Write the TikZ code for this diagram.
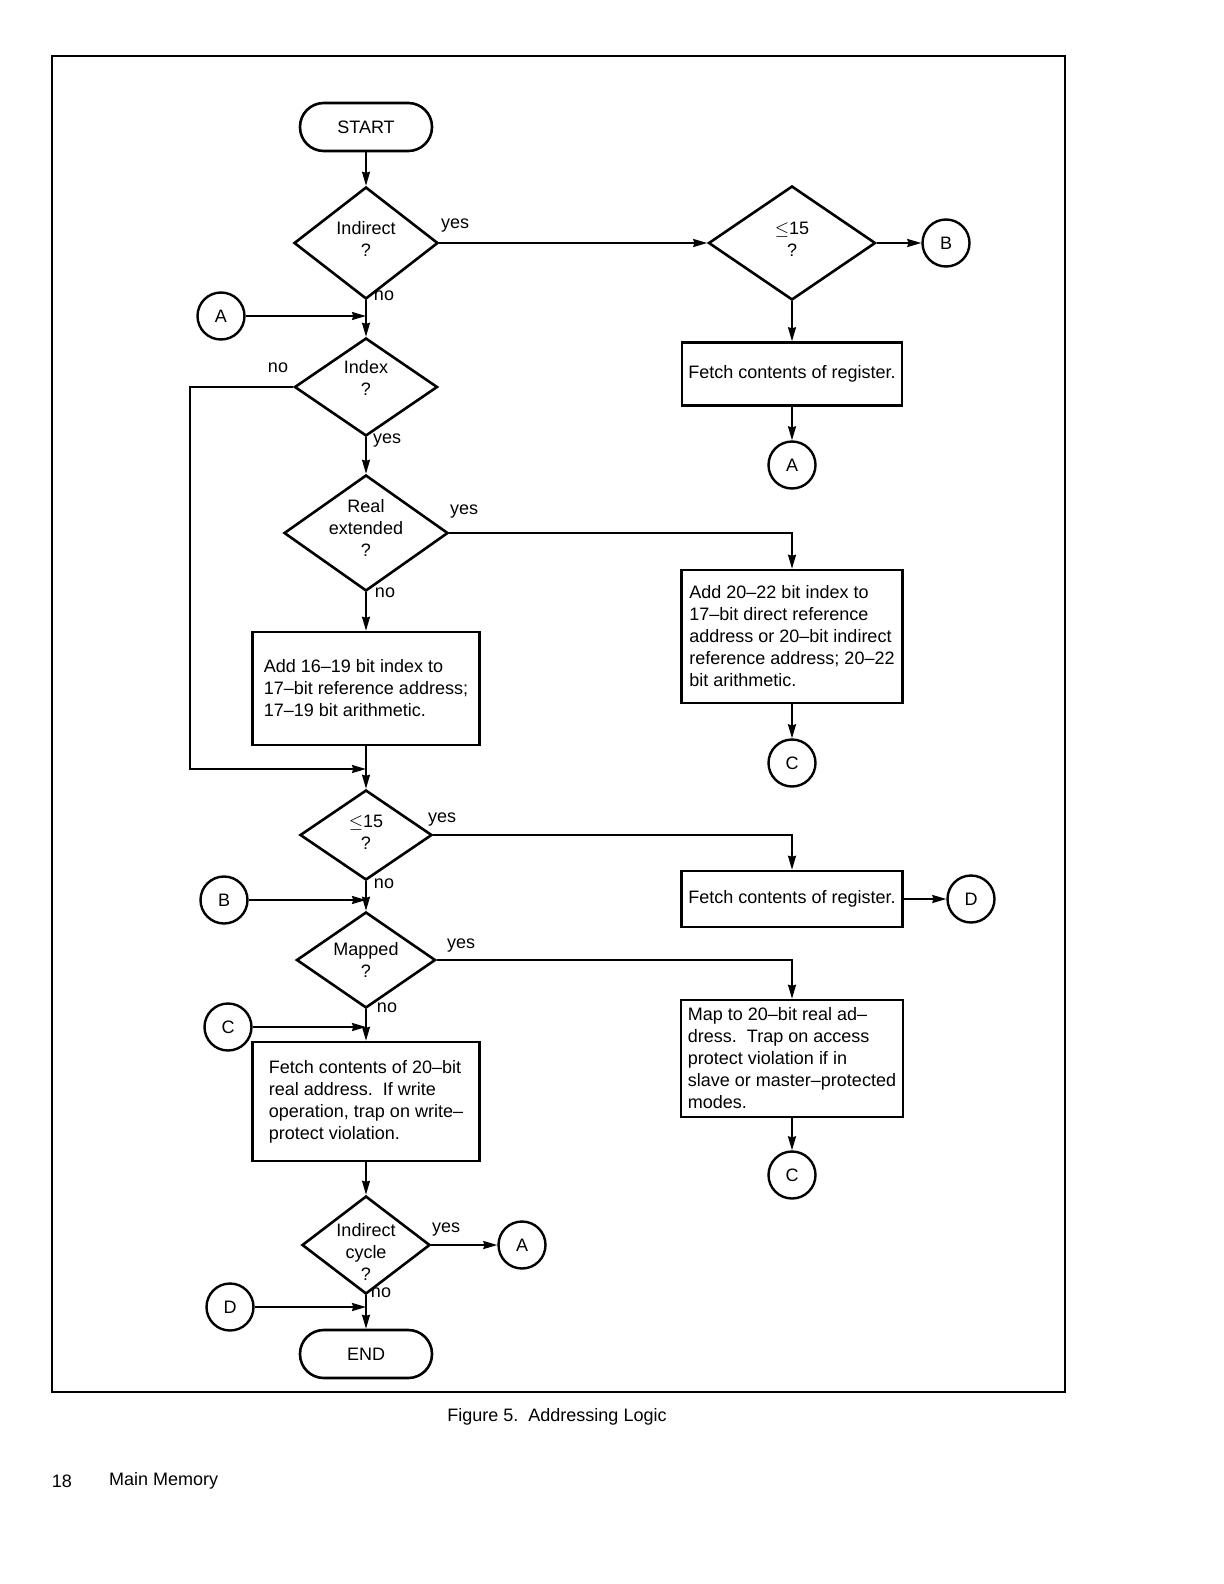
\documentclass[tikz,border=0pt]{standalone}
\usepackage{fontspec}
\setmainfont{Liberation Sans}
\usepackage{amsmath}
\usepackage{amssymb}
\usetikzlibrary{positioning, calc, shapes.geometric, arrows.meta}
\tikzstyle{decision}=[diamond, draw, line width=1.3pt, inner sep=0pt]
\tikzstyle{process}=[rectangle, draw, line width=1.3pt, align=left, inner sep=0pt]
\tikzstyle{terminal}=[rectangle, draw, line width=1.3pt, rounded corners=11.9pt, minimum width=66pt, minimum height=24pt]
\tikzstyle{connector}=[circle, draw, line width=1.2pt, minimum size=23.5pt, inner sep=0pt]
\tikzstyle{answer}=[inner sep=0pt]
\tikzstyle{arrow}=[-{Stealth[length=7pt,width=4pt,inset=0.6pt]}, line width=0.9pt]

\begin{document}
\begin{tikzpicture}[x=0.5pt, y=-0.5pt, font=\fontsize{9pt}{11pt}\selectfont]
    \useasboundingbox (0,0) rectangle (1224,1584);
    \draw[line width=1.2pt] (52,56) rectangle (1065,1392);

    % left column
    \node [terminal] (start) at (366,127) {START};
    \node [decision, minimum width=72pt, minimum height=56pt,
      label={[align=center, yshift=2pt]center:Indirect\\?}] (indirect) at (366,243) {};
    \node [decision, minimum width=71.5pt, minimum height=49pt,
      label={[align=center, yshift=4.5pt]center:Index\\?}] (index) at (366,387) {};
    \node [decision, minimum width=82pt, minimum height=58pt,
      label={[align=center, yshift=2.5pt]center:Real\\extended\\?}] (real) at (366,533) {};
    \node [process, minimum width=113.5pt, minimum height=56.5pt] (add1) at (366,688.5)
      {Add 16--19 bit index to\\17--bit reference address;\\17--19 bit arithmetic.};
    \node [decision, minimum width=66pt, minimum height=45pt,
      label={[align=center, yshift=1.5pt]center:$\leq$15\\?}] (le2) at (366,835) {};
    \node [decision, minimum width=69.5pt, minimum height=48pt,
      label={[align=center]center:Mapped\\?}] (mapped) at (366,960) {};
    \node [process, minimum width=113.5pt, minimum height=59.5pt] (fetch3) at (366,1101.5)
      {Fetch contents of 20--bit\\real address.\ \ If write\\operation, trap on write--\\protect violation.};
    \node [decision, minimum width=64pt, minimum height=49pt,
      label={[align=center, yshift=-3.5pt]center:Indirect\\cycle\\?}] (cycle) at (366,1245) {};
    \node [terminal] (end) at (366,1354) {END};

    % right column
    \node [decision, minimum width=83.5pt, minimum height=57pt,
      label={[align=center, yshift=2pt]center:$\leq$15\\?}] (le1) at (792,243) {};
    \node [process, minimum width=110pt, minimum height=31.5pt] (fetch1) at (792,374)
      {Fetch contents of register.};
    \node [process, minimum width=110.5pt, minimum height=66.5pt] (add2) at (792,636.5)
      {Add 20--22 bit index to\\17--bit direct reference\\address or 20--bit indirect\\reference address; 20--22\\bit arithmetic.};
    \node [process, minimum width=110.5pt, minimum height=28pt] (fetch2) at (792,899)
      {Fetch contents of register.};
    \node [process, minimum width=111pt, minimum height=58.5pt] (map) at (792,1058.5)
      {Map to 20--bit real ad--\\dress.\ \ Trap on access\\protect violation if in\\slave or master--protected\\modes.};

    % off-page connectors
    \foreach \n/\l/\x/\y in {a1/A/221/316, b1/B/946/243, a2/A/792/465, c1/C/792/763,
      b2/B/224/900, d1/D/971/899, c2/C/228/1027, c3/C/792/1175, a3/A/522/1245, d2/D/230/1307}
    \node [connector] (\n) at (\x,\y) {\l};

    % yes / no
    \foreach \n/\l/\x/\y in {y1/yes/455/226, n1/no/384/296, n2/no/278/368, y2/yes/387/441,
      y3/yes/464/512, n3/no/385/593, y4/yes/442/820, n4/no/384/884,
      y5/yes/461/946, n5/no/387/1008, y6/yes/446/1230, n6/no/381/1293}
    \node [answer] (\n) at (\x,\y) {\l};

    \draw [arrow] (start) -- (indirect);
    \draw [arrow] (indirect.east) -- (le1.west);
    \draw [arrow] (le1.east) -- (b1);
    \draw [arrow] (le1) -- (fetch1);
    \draw [arrow] (fetch1) -- (a2);
    \draw [arrow] (indirect) -- (index);
    \draw [arrow] (a1) -- (a1 -| index.north);
    \coordinate (join) at (366,769);
    \draw [arrow] (index.west) -- ++(-103,0) |- (join);
    \draw [arrow] (index) -- (real);
    \draw [arrow] (real.east) -| (add2.north);
    \draw [arrow] (add2) -- (c1);
    \draw [arrow] (real) -- (add1);
    \draw [arrow] (add1) -- (le2);
    \draw [arrow] (le2.east) -| (fetch2.north);
    \draw [arrow] (fetch2) -- (d1);
    \draw [arrow] (le2) -- (mapped);
    \draw [arrow] (b2) -- (b2 -| mapped.north);
    \draw [arrow] (mapped.east) -| (map.north);
    \draw [arrow] (map) -- (c3);
    \draw [arrow] (mapped) -- (fetch3);
    \draw [arrow] (c2) -- (c2 -| fetch3.north);
    \draw [arrow] (fetch3) -- (cycle);
    \draw [arrow] (cycle.east) -- (a3);
    \draw [arrow] (cycle) -- (end);
    \draw [arrow] (d2) -- (d2 -| end.north);

    \node (caption) at (557,1417) {Figure 5.\ \ Addressing Logic};
    \node (page) at (62,1481) {18};
    \node [anchor=west, right=20pt of page.center] (section) {Main Memory};
\end{tikzpicture}
\end{document}
